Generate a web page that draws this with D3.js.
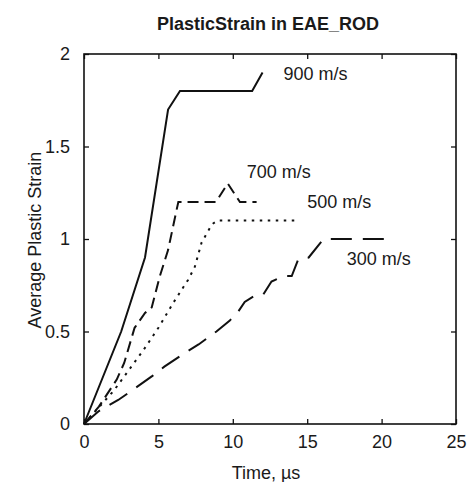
<!DOCTYPE html>
<html><head><meta charset="utf-8">
<script src="https://cdn.jsdelivr.net/npm/d3@7"></script>
<style>body{margin:0;background:#fff}svg{display:block}text{font-family:"Liberation Sans",Arial,sans-serif;fill:#1a1a1a}</style>
</head><body>
<svg id="c" width="468" height="482"></svg>
<script>
const title = "PlasticStrain in EAE_ROD";
const xLabel = "Time, µs";
const yLabel = "Average Plastic Strain";
const xTicks = [0, 5, 10, 15, 20, 25];
const yTicks = [0, 0.5, 1, 1.5, 2];
const yTickLabels = ["0", "0.5", "1", "1.5", "2"];
const seriesNames = ["900 m/s", "700 m/s", "500 m/s", "300 m/s"];
const t900 = [0, 2.5, 4.1, 5.65, 6.45, 11.3, 12.0];
const s900 = [0, 0.5, 0.9, 1.7, 1.8, 1.8, 1.9];
const t700 = [0, 1.0, 2.2, 2.7, 3.4, 4.1, 4.55, 5.1, 5.65, 6.23, 6.34, 8.87, 9.66, 10.48, 11.6];
const s700 = [0, 0.094, 0.24, 0.33, 0.52, 0.6, 0.63, 0.8, 0.94, 1.16, 1.2, 1.2, 1.3, 1.2, 1.2];
const t500 = [0, 1, 2, 3, 4, 5, 6, 7, 7.45, 7.9, 8.6, 9.0, 14.2];
const s500 = [0, 0.09, 0.18, 0.29, 0.40, 0.52, 0.655, 0.78, 0.85, 0.98, 1.08, 1.1, 1.1];
const t300 = [0, 1, 2.3, 3.2, 4.6, 5.4, 6.7, 7.7, 8.9, 9.8, 10.3, 10.8, 11.6, 12.05, 12.6, 13.4, 13.96, 14.4, 15.1, 16.1, 20.4];
const s300 = [0, 0.07, 0.13, 0.18, 0.26, 0.31, 0.38, 0.43, 0.50, 0.56, 0.6, 0.66, 0.70, 0.70, 0.77, 0.80, 0.80, 0.89, 0.90, 1.0, 1.0];
const labelPos = [[13.4, 1.86], [10.93, 1.33], [15.0, 1.166], [17.65, 0.86]];

const svg = d3.select("#c");
const L = 84, R = 456, T = 54, B = 424;
const x = d3.scaleLinear().domain([0, 25]).range([L, R]);
const y = d3.scaleLinear().domain([0, 2]).range([B, T]);

const fmt = v => yTickLabels[yTicks.indexOf(v)];
svg.append("g").attr("transform", `translate(0,${B})`)
  .call(d3.axisBottom(x).tickValues(xTicks).tickSize(-5).tickPadding(11).tickFormat(d3.format("d")));
svg.append("g").attr("transform", `translate(0,${T})`)
  .call(d3.axisTop(x).tickValues(xTicks).tickSize(-5).tickFormat(""));
svg.append("g").attr("transform", `translate(${L},0)`)
  .call(d3.axisLeft(y).tickValues(yTicks).tickSize(-5).tickPadding(14).tickFormat(fmt));
svg.append("g").attr("transform", `translate(${R},0)`)
  .call(d3.axisRight(y).tickValues(yTicks).tickSize(-5).tickFormat(""));
svg.selectAll(".domain").remove();
svg.selectAll(".tick line").attr("stroke", "#111").attr("stroke-width", 1.3);
svg.selectAll(".tick text").style("font-size", "18px").attr("fill", "#1a1a1a")
  .style("font-family", '"Liberation Sans",Arial,sans-serif');
svg.append("rect").attr("x", L).attr("y", T).attr("width", R - L).attr("height", B - T)
  .attr("fill", "none").attr("stroke", "#111").attr("stroke-width", 1.6);

const line = d3.line().x(d => x(d[0])).y(d => y(d[1]));
const series = [
  [t900, s900, null],
  [t700, s700, "11,6"],
  [t500, s500, "2.5,5.5"],
  [t300, s300, "21,11"]
];
series.forEach(([t, s, dash]) => {
  svg.append("path").datum(t.map((v, i) => [v, s[i]]))
    .attr("d", line).attr("fill", "none").attr("stroke", "#111")
    .attr("stroke-width", 2).attr("stroke-dasharray", dash);
});
seriesNames.forEach((n, i) => {
  svg.append("text").attr("x", x(labelPos[i][0])).attr("y", y(labelPos[i][1]))
    .style("font-size", "18px").text(n);
});

svg.append("text").attr("x", 268).attr("y", 30).attr("text-anchor", "middle")
  .style("font-size", "18px").style("font-weight", "bold").text(title);
svg.append("text").attr("x", 266).attr("y", 479).attr("text-anchor", "middle")
  .style("font-size", "18px").text(xLabel);
svg.append("text").attr("transform", "translate(41,240) rotate(-90)").attr("text-anchor", "middle")
  .style("font-size", "18px").text(yLabel);
</script>
</body></html>
